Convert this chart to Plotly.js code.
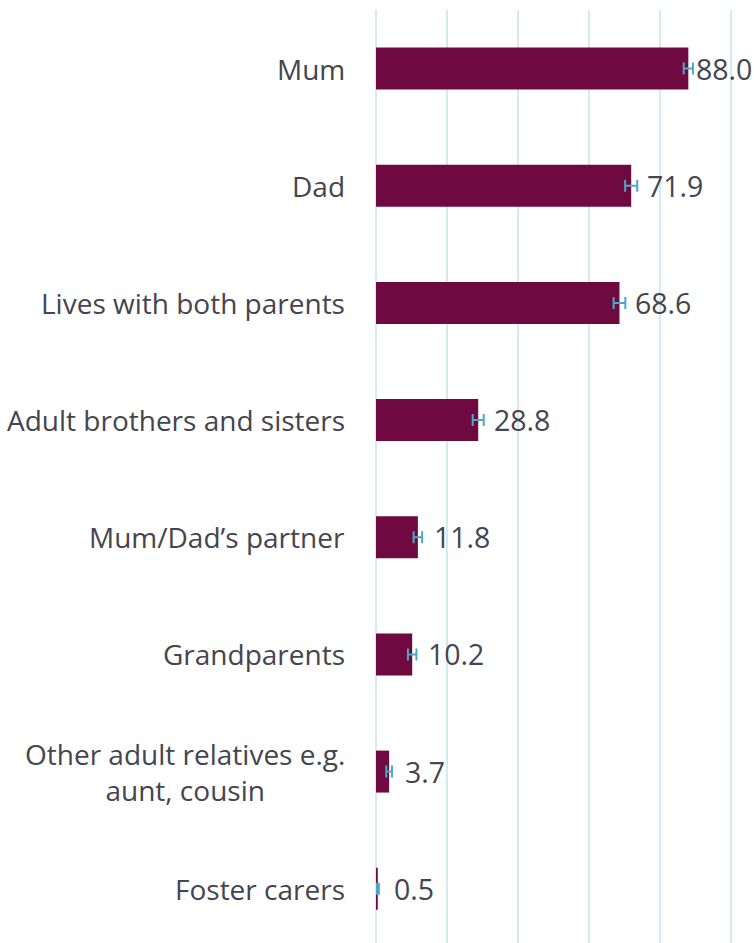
<!DOCTYPE html>
<html>
<head>
<meta charset="utf-8">
<script src="https://cdn.plot.ly/plotly-3.0.1.min.js"></script>
<style>
  html, body { margin: 0; padding: 0; background: #ffffff; overflow: hidden; }
  #chart { width: 754px; height: 943px; }
</style>
</head>
<body>
<div id="chart"></div>
<script>
// Data
const categories = [
  "Mum",
  "Dad",
  "Lives with both parents",
  "Adult brothers and sisters",
  "Mum/Dad’s partner",
  "Grandparents",
  "Other adult relatives e.g.<br>aunt, cousin",
  "Foster carers"
];
const values = [88.0, 71.9, 68.6, 28.8, 11.8, 10.2, 3.7, 0.5];
const errors = [1.3, 1.7, 1.65, 1.55, 1.2, 1.2, 0.8, 0.3];
const valueLabels = ["88.0", "71.9", "68.6", "28.8", "11.8", "10.2", "3.7", "0.5"];

const textColor = "#44454f";
const fontFamily = "'Open Sans', 'Noto Sans', sans-serif";

const trace = {
  type: "bar",
  orientation: "h",
  x: values,
  y: categories,
  width: 0.358,
  marker: { color: "#6f0a40", line: { width: 0 } },
  error_x: {
    type: "data",
    array: errors,
    visible: true,
    color: "#4aa9c6",
    thickness: 2,
    width: 6
  },
  hoverinfo: "skip"
};

const annotations = [];
categories.forEach((c, i) => {
  annotations.push({
    x: 0, y: c, xref: "x", yref: "y",
    text: c,
    showarrow: false,
    xanchor: "right", yanchor: "middle",
    align: "center",
    xshift: -29,
    font: { family: fontFamily, size: 28, color: textColor }
  });
  annotations.push({
    x: values[i], y: c, xref: "x", yref: "y",
    text: valueLabels[i],
    showarrow: false,
    xanchor: "left", yanchor: "middle",
    xshift: values[i] > 80 ? 6 : 14,
    font: { family: fontFamily, size: 28.5, color: textColor }
  });
});

const layout = {
  width: 754,
  height: 943,
  margin: { l: 376, r: 0, t: 10, b: 0, pad: 0 },
  paper_bgcolor: "#ffffff",
  plot_bgcolor: "#ffffff",
  showlegend: false,
  bargap: 0.64,
  xaxis: {
    range: [0, 106.5],
    dtick: 20,
    tick0: 0,
    showgrid: true,
    gridcolor: "#d5e9f0",
    gridwidth: 2,
    zeroline: true,
    zerolinecolor: "#d5e9f0",
    zerolinewidth: 2,
    showticklabels: false,
    ticks: "",
    showline: false,
    fixedrange: true
  },
  yaxis: {
    type: "category",
    range: [7.463, -0.5],
    showgrid: false,
    zeroline: false,
    showticklabels: false,
    ticks: "",
    showline: false,
    fixedrange: true
  },
  annotations: annotations
};

Plotly.newPlot("chart", [trace], layout, { displayModeBar: false, staticPlot: true });
</script>
</body>
</html>
